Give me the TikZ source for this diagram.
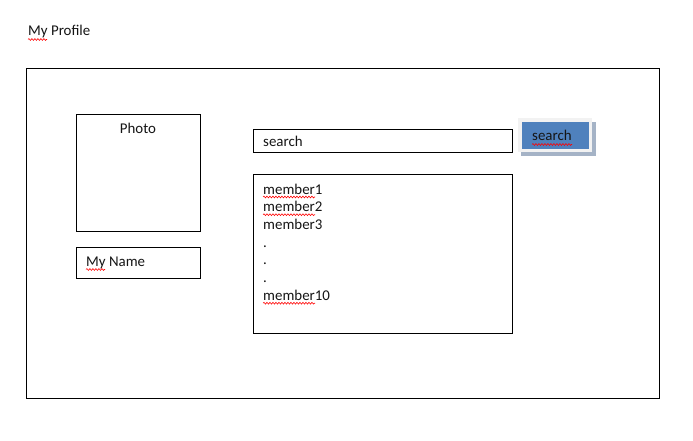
\documentclass[tikz,border=0pt]{standalone}
\usepackage{fontspec}
\setmainfont{Carlito}
\usetikzlibrary{decorations.pathmorphing}
\definecolor{btnblue}{HTML}{4F81BD}
\definecolor{btnframe}{HTML}{F2F2F2}
\definecolor{btnshadow}{HTML}{A5B3C6}
\definecolor{txt}{HTML}{151515}
\tikzset{
  box/.style={draw=black, line width=0.9pt},
  lbl/.style={anchor=base west, inner sep=0pt, font=\fontsize{14.9}{17}\selectfont, text=txt},
  clbl/.style={anchor=base, inner sep=0pt, font=\fontsize{14.9}{17}\selectfont, text=txt},
  squig/.style={draw=red, line width=0.6pt, decorate, decoration={snake, amplitude=0.9pt, segment length=3pt}}
}
\begin{document}
\begin{tikzpicture}[x=1pt,y=-1pt]
\useasboundingbox (0,0) rectangle (693,441);
\fill[white] (0,0) rectangle (693,441);
% title
\node[lbl] (title) at (28,35.5) {My Profile};
\draw[squig] (28,39.5) -- (47,39.5);
% outer frame
\draw[box] (26,68) rectangle (659,398);
% photo
\draw[box] (76,114) rectangle (200,231);
\node[clbl] (photo) at (138,133) {Photo};
% name
\draw[box] (76,247) rectangle (200,278);
\node[lbl] (name) at (86,266) {My Name};
\draw[squig] (86,269.5) -- (105,269.5);
% search field
\draw[box] (253,129) rectangle (512,152);
\node[lbl] (sfield) at (263,146.5) {search};
% search button
\fill[btnshadow] (521,122) rectangle (596,156);
\fill[btnframe] (518,118) rectangle (592,152);
\fill[btnblue] (522,122) rectangle (589,149);
\node[lbl] (sbtn) at (532,141) {search};
\draw[squig] (532,144.5) -- (572,144.5);
% member list
\draw[box] (253,174) rectangle (512,333);
\node[lbl] (m1) at (263,194) {member1};
\node[lbl] (m2) at (263,211.7) {member2};
\node[lbl] (m3) at (263,229.4) {member3};
\node[lbl] (d1) at (263,247.1) {.};
\node[lbl] (d2) at (263,264.8) {.};
\node[lbl] (d3) at (263,282.5) {.};
\node[lbl] (m10) at (263,300.2) {member10};
\draw[squig] (263,197) -- (315,197);
\draw[squig] (263,214.7) -- (315,214.7);
\draw[squig] (263,303.2) -- (315,303.2);
\end{tikzpicture}
\end{document}
